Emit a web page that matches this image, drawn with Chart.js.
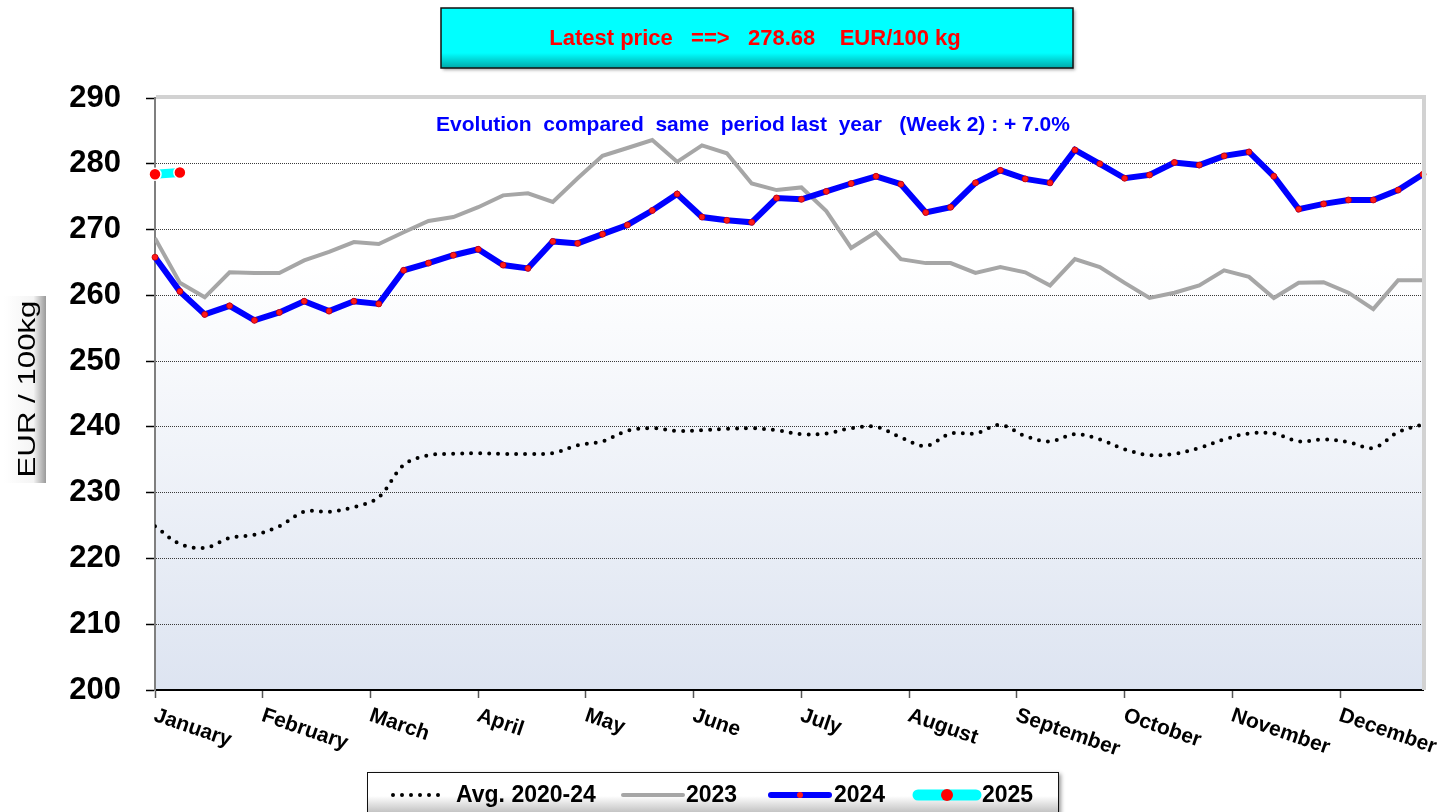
<!DOCTYPE html>
<html>
<head>
<meta charset="utf-8">
<script src="https://cdn.jsdelivr.net/npm/chart.js@4.4.0/dist/chart.umd.min.js"></script>
<style>
html, body { margin: 0; padding: 0; background: #fff; }
#wrap { width: 1451px; height: 812px; }
</style>
</head>
<body>
<div id="wrap"><canvas id="myChart" width="1451" height="812"></canvas></div>
<script>
// weekly prices, EUR / 100kg
const months = ['January','February','March','April','May','June','July','August','September','October','November','December'];

const avg2020_24 = [224.9,222.2,221.6,223.1,223.6,224.9,227.1,227.1,227.8,229.3,234.2,235.7,235.9,236.0,
  235.9,235.9,236.0,237.2,237.8,239.4,239.8,239.4,239.5,239.7,239.8,239.5,238.9,239.0,239.8,240.0,
  238.4,237.1,239.0,239.0,240.3,238.6,237.8,238.9,238.1,236.6,235.7,235.9,236.8,238.1,239.0,239.0,
  237.8,238.1,237.7,236.8,239.2,240.4];

const y2023 = [268.7,261.9,259.7,263.5,263.4,263.4,265.3,266.6,268.1,267.8,269.6,271.3,271.9,273.4,
  275.2,275.5,274.2,277.8,281.2,282.4,283.6,280.3,282.8,281.6,277.0,276.0,276.4,272.8,267.2,269.6,
  265.5,264.9,264.9,263.4,264.3,263.5,261.5,265.5,264.3,261.9,259.6,260.4,261.5,263.8,262.8,259.6,
  261.9,262.0,260.4,257.9,262.3,262.3];

const y2024 = [265.8,260.6,257.1,258.4,256.2,257.4,259.1,257.6,259.1,258.7,263.8,264.9,266.1,267.0,
  264.6,264.1,268.2,267.9,269.3,270.7,272.9,275.4,271.9,271.4,271.1,274.8,274.6,275.8,277.0,278.1,
  276.9,272.6,273.4,277.1,279.0,277.7,277.1,282.1,280.0,277.8,278.3,280.2,279.8,281.2,281.8,278.1,
  273.1,273.9,274.5,274.5,276.0,278.4];

const y2025 = [278.4,278.68];

const latestPrice = '278.68';
const evolutionText = 'Evolution  compared  same  period last  year   (Week 2) : + 7.0%';

function toPoints(arr) {
  return arr.map((v, i) => ({ x: i, y: v }));
}

const FONT = '"Liberation Sans", Arial, sans-serif';

const backdrop = {
  id: 'backdrop',
  beforeDraw(chart) {
    const { ctx, chartArea: a } = chart;
    const g = ctx.createLinearGradient(0, a.top, 0, a.bottom);
    g.addColorStop(0, '#ffffff');
    g.addColorStop(0.28, '#ffffff');
    g.addColorStop(1, '#dde4f1');
    ctx.save();
    ctx.fillStyle = g;
    ctx.fillRect(a.left, a.top, a.right - a.left, a.bottom - a.top);
    ctx.restore();
  }
};

const decor = {
  id: 'decor',
  afterDraw(chart) {
    const { ctx, chartArea: a } = chart;
    const xs = chart.scales.x;
    ctx.save();

    // grey frame top / right of the plot
    ctx.strokeStyle = '#d2d2d2';
    ctx.lineWidth = 4;
    ctx.beginPath();
    ctx.moveTo(a.left + 1, a.top - 1);
    ctx.lineTo(a.right + 1, a.top - 1);
    ctx.lineTo(a.right + 1, a.bottom);
    ctx.stroke();

    // month labels, slanted
    ctx.fillStyle = '#000';
    ctx.font = 'bold 21px ' + FONT;
    ctx.textAlign = 'left';
    ctx.textBaseline = 'top';
    months.forEach((m, k) => {
      const px = xs.getPixelForValue(k * 52 / 12);
      ctx.save();
      ctx.translate(px + 3, a.bottom + 15);
      ctx.rotate(19 * Math.PI / 180);
      ctx.fillText(m, 0, 0);
      ctx.restore();
    });

    // title box
    ctx.save();
    ctx.shadowColor = 'rgba(0,0,0,0.35)';
    ctx.shadowOffsetX = 2;
    ctx.shadowOffsetY = 2;
    ctx.shadowBlur = 3;
    let g = ctx.createLinearGradient(0, 8, 0, 68);
    g.addColorStop(0, '#00ffff');
    g.addColorStop(0.75, '#00ffff');
    g.addColorStop(1, '#00a8a8');
    ctx.fillStyle = g;
    ctx.fillRect(441, 8, 632, 60);
    ctx.restore();
    ctx.strokeStyle = '#111';
    ctx.lineWidth = 1.5;
    ctx.strokeRect(441, 8, 632, 60);
    ctx.fillStyle = '#ff0000';
    ctx.font = 'bold 22px ' + FONT;
    ctx.textAlign = 'center';
    ctx.textBaseline = 'middle';
    ctx.fillText('Latest price   ==>   ' + latestPrice + '    EUR/100 kg', 755, 39);

    // evolution text
    ctx.fillStyle = '#0000ff';
    ctx.font = 'bold 21px ' + FONT;
    ctx.fillText(evolutionText, 753, 125);

    // y axis title box
    g = ctx.createLinearGradient(4, 0, 46, 0);
    g.addColorStop(0, '#ffffff');
    g.addColorStop(0.7, '#f4f4f4');
    g.addColorStop(1, '#9a9a9a');
    ctx.fillStyle = g;
    ctx.fillRect(4, 296, 42, 187);
    ctx.save();
    ctx.translate(28, 389);
    ctx.rotate(-Math.PI / 2);
    ctx.scale(1.3, 1);
    ctx.fillStyle = '#000';
    ctx.font = '24px ' + FONT;
    ctx.fillText('EUR / 100kg', 0, 0);
    ctx.restore();

    // legend box
    ctx.save();
    ctx.shadowColor = 'rgba(0,0,0,0.4)';
    ctx.shadowOffsetX = 3;
    ctx.shadowOffsetY = 2;
    ctx.shadowBlur = 4;
    g = ctx.createLinearGradient(0, 772, 0, 812);
    g.addColorStop(0, '#ffffff');
    g.addColorStop(0.6, '#ffffff');
    g.addColorStop(1, '#c4c4c4');
    ctx.fillStyle = g;
    ctx.fillRect(367, 772, 691, 46);
    ctx.restore();
    ctx.strokeStyle = '#111';
    ctx.lineWidth = 1;
    ctx.strokeRect(367.5, 772.5, 691, 46);

    const ds = chart.data.datasets;
    const ly = 795;
    const items = [
      { d: ds[0], x0: 393, x1: 447, tx: 456 },
      { d: ds[1], x0: 623, x1: 683, tx: 686 },
      { d: ds[2], x0: 771, x1: 829, tx: 834 },
      { d: ds[3], x0: 918, x1: 976, tx: 982 }
    ];
    items.forEach(it => {
      const d = it.d;
      ctx.save();
      ctx.strokeStyle = d.borderColor;
      ctx.lineWidth = d === ds[3] ? 11 : d.borderWidth;
      ctx.lineCap = 'round';
      ctx.setLineDash(d.borderDash || []);
      ctx.beginPath();
      ctx.moveTo(it.x0, ly);
      ctx.lineTo(it.x1, ly);
      ctx.stroke();
      ctx.setLineDash([]);
      if (d.pointRadius) {
        ctx.beginPath();
        ctx.arc((it.x0 + it.x1) / 2, ly, d.pointRadius, 0, Math.PI * 2);
        ctx.fillStyle = d.pointBackgroundColor;
        ctx.fill();
      }
      ctx.restore();
      ctx.fillStyle = '#000';
      ctx.font = 'bold 23px ' + FONT;
      ctx.textAlign = 'left';
      ctx.textBaseline = 'middle';
      ctx.fillText(d.label, it.tx, ly + 1);
    });

    ctx.restore();
  }
};

const ctx = document.getElementById('myChart');

const myChart = new Chart(ctx, {
  type: 'line',
  data: {
    datasets: [
      {
        label: 'Avg. 2020-24',
        data: toPoints(avg2020_24),
        borderColor: '#000000',
        borderWidth: 4,
        borderDash: [0, 9],
        borderCapStyle: 'round',
        pointRadius: 0,
        tension: 0.35,
        order: 4
      },
      {
        label: '2023',
        data: toPoints(y2023),
        borderColor: '#a6a6a6',
        borderWidth: 4,
        pointRadius: 0,
        tension: 0,
        order: 3
      },
      {
        label: '2024',
        data: toPoints(y2024),
        borderColor: '#0000ff',
        borderWidth: 6,
        pointRadius: 3,
        pointBackgroundColor: '#ff1a1a',
        pointBorderColor: '#c00000',
        pointBorderWidth: 0.8,
        tension: 0,
        clip: false,
        order: 2
      },
      {
        label: '2025',
        data: toPoints(y2025),
        borderColor: '#00ffff',
        borderWidth: 9,
        pointRadius: 6,
        pointBackgroundColor: '#ff0000',
        pointBorderColor: '#ffffff',
        pointBorderWidth: 1.5,
        tension: 0,
        clip: false,
        order: 1
      }
    ]
  },
  options: {
    responsive: false,
    animation: false,
    devicePixelRatio: 1,
    layout: { padding: { top: 98, right: 28, left: 0, bottom: 0 } },
    plugins: {
      legend: { display: false },
      tooltip: { enabled: false },
      title: { display: false }
    },
    scales: {
      x: {
        type: 'linear',
        min: 0,
        max: 51,
        afterBuildTicks: axis => {
          axis.ticks = months.map((m, k) => ({ value: k * 52 / 12 }));
        },
        afterFit: axis => { axis.height = 122; },
        ticks: { display: false },
        grid: {
          drawOnChartArea: false,
          drawTicks: true,
          tickLength: 8,
          tickColor: '#555',
          tickWidth: 1.5
        },
        border: { display: true, color: '#000', width: 2 }
      },
      y: {
        min: 200,
        max: 290,
        afterFit: axis => { axis.width = 155; },
        ticks: {
          stepSize: 10,
          color: '#000',
          padding: 25,
          font: { family: FONT, size: 31, weight: 'bold' }
        },
        grid: {
          color: c => (c.tick.value === 200 || c.tick.value === 290) ? 'rgba(0,0,0,0)' : '#3a3a3a',
          lineWidth: 1,
          drawTicks: true,
          tickLength: 9,
          tickColor: '#000',
          tickWidth: 1.5
        },
        border: { display: true, color: '#7f7f7f', width: 2, dash: [1, 1] }
      }
    }
  },
  plugins: [backdrop, decor]
});
</script>
</body>
</html>
